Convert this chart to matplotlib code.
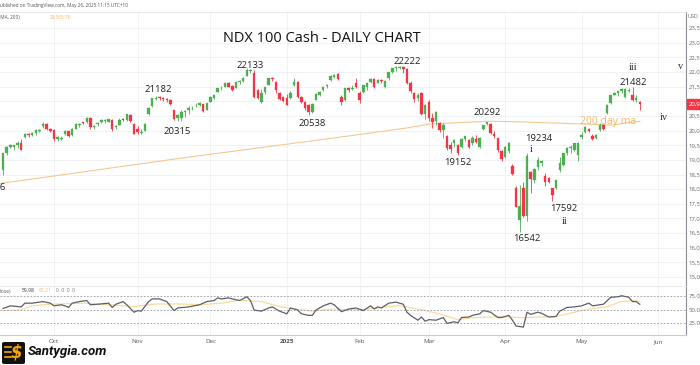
import matplotlib
matplotlib.use("Agg")
import matplotlib.pyplot as plt
import matplotlib.transforms as mtransforms
from matplotlib.patches import FancyBboxPatch
from matplotlib.lines import Line2D
import pandas as pd

plt.rcParams["font.family"] = ["Open Sans", "DejaVu Sans"]

# trading calendar (bar index 0 = 2024-09-11)
start_date = "2024-09-11"
end_date = "2025-06-02"
holidays = ["2024-11-28", "2024-12-25", "2025-01-01", "2025-01-09",
            "2025-01-20", "2025-02-17", "2025-04-18", "2025-05-26"]

opens = [
    18650, 19240, 19440, 19450, 19520, 19560, 19780, 19900, 19860, 19930,
    19990, 20150, 20230, 20060, 20020, 19700, 19720, 19880, 19980, 19850,
    20070, 20180, 20280, 20290, 20430, 20110, 20220, 20280, 20330, 20300,
    20370, 20120, 20200, 20400, 20350, 20520, 20240, 20050, 19930, 19990,
    20550, 20840, 21090, 21150, 21100, 21080, 21050, 20700, 20420, 20420,
    20620, 20700, 20760, 20860, 20880, 20900, 20700, 20980, 21100, 21330,
    21450, 21500, 21640, 21510, 21450, 21650, 21700, 21880, 22020, 21980,
    21380, 20990, 21320, 21550, 21780, 21650, 21300, 21150, 21100, 21110,
    21550, 21660, 21150, 20980, 20870, 20650, 21050, 21220, 21390, 21520,
    21720, 21840, 21930, 21160, 21050, 21450, 21420, 21640, 21300, 21320,
    21500, 21660, 21760, 21640, 21720, 21500, 21800, 21990, 22130, 22150,
    22160, 22100, 21640, 21300, 21120, 21280, 20550, 20980, 20440, 20340,
    20250, 20010, 19800, 19500, 19570, 19500, 19440, 19700, 19680, 19560,
    19700, 19450, 20050, 20210, 20220, 19880, 19740, 19320, 19100, 19300,
    18800, 18050, 16950, 18050, 17100, 18580, 18300, 18760, 18880, 18450,
    18380, 18040, 18040, 18650, 18820, 19230, 19400, 19350, 19150, 19780,
    19950, 20050, 19810, 19740, 20020, 20190, 20600, 20940, 21230, 21280,
    21350, 21160, 21360, 21210, 21050, 20990,
]
highs = [
    19250, 19460, 19540, 19520, 19640, 19700, 19930, 19920, 19960, 20050,
    20060, 20280, 20260, 20080, 20040, 19800, 19820, 20020, 20000, 20080,
    20250, 20260, 20300, 20460, 20450, 20180, 20290, 20380, 20380, 20400,
    20380, 20180, 20420, 20430, 20580, 20580, 20260, 20150, 20050, 20250,
    20800, 21120, 21170, 21182, 21150, 21120, 21080, 20720, 20550, 20700,
    20700, 20850, 20830, 20950, 20960, 20920, 20950, 21180, 21230, 21470,
    21520, 21650, 21660, 21560, 21680, 21740, 21820, 22133, 22110, 22070,
    21420, 21420, 21500, 21800, 21830, 21680, 21320, 21180, 21260, 21340,
    21800, 21700, 21190, 21000, 20900, 20950, 21300, 21350, 21520, 21600,
    21900, 21920, 21960, 21200, 21470, 21480, 21560, 21800, 21350, 21570,
    21650, 21780, 21800, 21770, 21760, 21730, 22000, 22140, 22190, 22222,
    22190, 22120, 21700, 21330, 21300, 21330, 20900, 21040, 20600, 20660,
    20300, 20250, 19850, 19620, 19700, 19540, 19750, 19830, 19700, 19800,
    19840, 19780, 20200, 20292, 20250, 19980, 19760, 19350, 19480, 19620,
    18850, 18100, 18150, 18250, 19234, 18620, 18720, 19100, 19000, 18550,
    18400, 18050, 18330, 19100, 19240, 19430, 19500, 19580, 19600, 19950,
    20150, 20080, 19900, 19900, 20250, 20220, 20900, 21230, 21330, 21360,
    21440, 21450, 21440, 21482, 21200, 21000,
]
lows = [
    18500, 19180, 19400, 19350, 19400, 19330, 19740, 19780, 19820, 19850,
    19960, 20080, 20020, 19960, 19650, 19640, 19680, 19840, 19780, 19830,
    20050, 20120, 20220, 20270, 20050, 20060, 20150, 20260, 20250, 20280,
    20000, 20060, 20180, 20340, 20340, 20300, 19880, 19900, 19900, 19980,
    20520, 20820, 21050, 21050, 21020, 20980, 20860, 20350, 20330, 20315,
    20480, 20560, 20720, 20800, 20850, 20650, 20690, 20970, 21070, 21320,
    21400, 21490, 21480, 21350, 21440, 21600, 21650, 21860, 21980, 21100,
    21080, 20950, 21250, 21540, 21700, 21280, 21040, 20980, 20860, 21090,
    21520, 21100, 20950, 20720, 20538, 20600, 21030, 21180, 21340, 21440,
    21700, 21780, 21720, 20880, 21000, 21320, 21380, 21450, 20950, 21290,
    21400, 21620, 21460, 21620, 21620, 21450, 21740, 21960, 22050, 22100,
    21980, 21580, 21300, 20970, 21000, 20520, 20400, 20320, 20100, 20200,
    19950, 19750, 19350, 19250, 19450, 19152, 19400, 19650, 19420, 19500,
    19560, 19400, 20030, 20190, 19880, 19740, 19280, 18950, 19050, 19250,
    18480, 17380, 16542, 17050, 16900, 17870, 18200, 18650, 18800, 18100,
    18200, 17592, 18000, 18600, 18800, 19180, 19250, 19320, 18950, 19700,
    19930, 19940, 19690, 19700, 19980, 20020, 20580, 20920, 21200, 21180,
    21300, 21120, 21310, 21020, 20980, 20690,
]
closes = [
    19230, 19440, 19500, 19500, 19560, 19340, 19900, 19850, 19920, 20010,
    20020, 20230, 20060, 20000, 19700, 19770, 19760, 20000, 19800, 20060,
    20230, 20230, 20260, 20430, 20120, 20150, 20270, 20360, 20360, 20380,
    20050, 20150, 20350, 20360, 20550, 20340, 19890, 19950, 19960, 20240,
    20780, 21100, 21120, 21100, 21070, 21030, 20900, 20390, 20520, 20620,
    20660, 20760, 20780, 20870, 20940, 20680, 20930, 21160, 21210, 21450,
    21460, 21620, 21500, 21390, 21650, 21700, 21780, 22080, 22060, 21150,
    21110, 21300, 21490, 21790, 21760, 21390, 21090, 21010, 20880, 21290,
    21650, 21150, 20990, 20780, 20650, 20920, 21260, 21330, 21490, 21560,
    21860, 21900, 21760, 20990, 21450, 21400, 21470, 21480, 21050, 21560,
    21630, 21760, 21490, 21720, 21680, 21710, 21990, 22120, 22170, 22180,
    22110, 21610, 21350, 21090, 21200, 20550, 20880, 20420, 20310, 20630,
    20020, 20200, 19420, 19360, 19680, 19220, 19720, 19800, 19450, 19740,
    19620, 19740, 20190, 20280, 19920, 19800, 19340, 19020, 19440, 19580,
    18520, 17400, 17430, 17090, 19145, 18340, 18690, 19000, 18950, 18250,
    18250, 17810, 18300, 18890, 19230, 19400, 19430, 19560, 19570, 19850,
    20120, 19980, 19710, 19860, 20180, 20060, 20870, 21200, 21300, 21340,
    21420, 21430, 21400, 21050, 21110, 20905,
]

# 200 day simple moving average, read at a few bars
sma_bars = [-1, 49, 94, 111, 117, 133, 142, 158, 167, 175]
sma_vals = [18190, 19060, 19800, 20090, 20220, 20320, 20300, 20230, 20190, 20320]

# RSI(14) and its moving average
rsi_bars = [0, 2, 5, 6, 8, 11, 13, 14, 16, 17, 18, 19, 21, 23, 24, 26, 29, 30,
            31, 33, 34, 36, 37, 38, 40, 41, 43, 45, 47, 48, 51, 54, 56, 58, 59,
            60, 62, 63, 65, 67, 68, 69, 71, 73, 74, 76, 78, 79, 81, 82, 84, 85,
            86, 88, 90, 91, 93, 95, 97, 99, 101, 102, 103, 104, 106, 108, 110,
            111, 112, 114, 115, 116, 117, 119, 121, 122, 124, 125, 126, 128,
            129, 131, 132, 134, 136, 137, 139, 140, 141, 143, 144, 145, 147,
            148, 150, 152, 153, 155, 157, 159, 161, 162, 164, 165, 167, 169,
            170, 172, 173, 174, 175]
rsi_vals = [52, 57, 55, 62, 62, 65, 62, 57, 59, 57, 54, 62, 65, 67, 59, 60, 62,
            54, 60, 65, 59, 45, 48, 47, 65, 70, 70, 65, 48, 53, 55, 59, 65, 67,
            72, 70, 72, 70, 67, 74, 67, 49, 47, 53, 55, 47, 42, 53, 49, 42, 39,
            39, 49, 57, 62, 59, 46, 51, 53, 48, 57, 51, 55, 53, 62, 64, 60, 45,
            39, 30, 36, 28, 31, 30, 35, 24, 27, 25, 35, 36, 39, 42, 48, 45, 35,
            35, 39, 30, 19, 17, 45, 41, 45, 43, 36, 37, 47, 54, 55, 57, 62, 57,
            59, 60, 73, 74, 76, 73, 65, 65, 59.98]
rsi_ma_bars = [0, 5, 8, 13, 22, 29, 36, 42, 48, 54, 60, 65, 71, 75, 80, 85, 91,
               95, 98, 104, 109, 115, 120, 125, 129, 137, 143, 148, 152, 157,
               161, 166, 170, 173, 175]
rsi_ma_vals = [48, 49, 57, 60, 62, 59, 55.5, 60.5, 60.5, 59, 62, 67.6, 65, 57.4,
               51, 47, 51, 50, 49.4, 54, 57.4, 49.4, 42, 31, 34.6, 37, 34.6,
               36, 37, 45, 51, 55.5, 65, 66.7, 65.21]

price_ticks = list(range(15000, 24000, 500))
rsi_levels = [25, 50, 75]

# swing / wave annotations: (text, bar, price)
swing_labels = [("18306", -3.0, 18073), ("21182", 42.6, 21418),
                ("20315", 47.8, 19985), ("22133", 67.9, 22238),
                ("20538", 84.9, 20258), ("22222", 111.0, 22375),
                ("19152", 125.0, 18926), ("20292", 133.0, 20633),
                ("19234", 147.3, 19746), ("17592", 154.2, 17356),
                ("16542", 144.0, 16332), ("21482", 173.1, 21657)]
wave_labels = [("iii", 173.1, 22170), ("ii", 154.4, 16912), ("i", 145.1, 19370),
               ("iv", 181.6, 20463), ("v", 186.3, 22204)]

UP = "#4caf50"
DOWN = "#f23645"
GRID = "#eef0f4"
AXIS = "#8a8d96"
MA_COL = "#f4c88e"

dates = pd.bdate_range(start_date, end_date, freq="C", holidays=holidays)
month_ticks = [i for i in range(1, len(dates)) if dates[i].month != dates[i - 1].month]
month_names = ["2025" if dates[i].month == 1 else dates[i].strftime("%b") for i in month_ticks]

fig = plt.figure(figsize=(7.0, 3.65), dpi=100)
ax = fig.add_axes([0, 0.219, 0.98, 0.748])
rsi_ax = fig.add_axes([0, 0.082, 0.98, 0.134], sharex=ax)

xmin, xmax = -0.84, 187.7

# candles
for i in range(len(closes)):
    o, h, l, c = opens[i], highs[i], lows[i], closes[i]
    col = UP if c >= o else DOWN
    ax.vlines(i, l, h, color=col, lw=0.6, zorder=3)
    ax.bar(i, max(abs(c - o), 12), bottom=min(o, c), width=0.68,
           color=col, edgecolor=col, lw=0.2, zorder=4)

ax.plot(sma_bars, sma_vals, color=MA_COL, lw=0.8, zorder=2)

ax.set_xlim(xmin, xmax)
ax.set_ylim(14727, 24047)
ax.set_yticks(price_ticks)
ax.set_yticklabels([f"{v:,.1f}" for v in price_ticks])
ax.yaxis.tick_right()
ax.tick_params(axis="y", length=0, labelsize=4.3, labelcolor="#666", pad=2)
ax.tick_params(axis="x", length=0, labelbottom=False)
ax.set_xticks(month_ticks)
ax.grid(True, color=GRID, lw=0.6)
for s in ["top", "left", "bottom"]:
    ax.spines[s].set_visible(False)
ax.spines["right"].set_color(AXIS)
ax.spines["right"].set_linewidth(0.8)

for txt, bx, py in swing_labels:
    ax.text(bx, py, txt, ha="center", va="center", fontsize=6.8, color="#222", zorder=6)
for txt, bx, py in wave_labels:
    ax.text(bx, py, txt, ha="center", va="center", fontsize=7.5, color="#333",
            family="Liberation Serif", zorder=6)
ax.text(166.2, 20326, "200 day ma", ha="center", va="center", fontsize=7.5,
        color="#f2b96a", zorder=6)

# last price tag
tag_tr = mtransforms.blended_transform_factory(ax.transAxes, ax.transData)
ax.text(1.004, closes[-1], f"{closes[-1]:,.1f}", transform=tag_tr, ha="left",
        va="center", fontsize=4.3, color="white", clip_on=False,
        bbox=dict(boxstyle="square,pad=0.35", fc=DOWN, ec=DOWN))

# RSI panel
rsi_ax.plot(rsi_ma_bars, rsi_ma_vals, color="#f7dc9c", lw=0.9, zorder=2)
rsi_ax.plot(rsi_bars, rsi_vals, color="#5d5f66", lw=0.9, zorder=3)
for lv in rsi_levels:
    rsi_ax.axhline(lv, color="#9598a1", lw=0.6, ls=(0, (2, 2)))
rsi_ax.set_ylim(2, 94)
rsi_ax.set_yticks(rsi_levels)
rsi_ax.set_yticklabels([f"{v:.2f}" for v in rsi_levels])
rsi_ax.yaxis.tick_right()
rsi_ax.tick_params(axis="y", length=0, labelsize=4.3, labelcolor="#666", pad=2)
rsi_ax.set_xticks(month_ticks)
rsi_ax.set_xticklabels(month_names)
rsi_ax.tick_params(axis="x", length=0, labelsize=4.5, labelcolor="#555", pad=3)
for lab in rsi_ax.get_xticklabels():
    if lab.get_text() == "2025":
        lab.set_fontweight("bold")
rsi_ax.grid(True, axis="x", color=GRID, lw=0.6)
rsi_ax.spines["left"].set_visible(False)
rsi_ax.spines["top"].set_color("#e3e5ea")
rsi_ax.spines["top"].set_linewidth(0.6)
rsi_ax.spines["right"].set_color(AXIS)
rsi_ax.spines["right"].set_linewidth(0.8)
rsi_ax.spines["bottom"].set_color("#c9ccd3")
rsi_ax.spines["bottom"].set_linewidth(0.8)

# header texts
fig.text(-0.004, 1 - 5 / 365, "Published on TradingView.com, May 26, 2025 11:15 UTC+10",
         fontsize=3.4, color="#555", va="center")
fig.text(-0.06, 1 - 17 / 365, "MA (200, close, 0, SMA, 200)", fontsize=3.4,
         color="#555", va="center")
fig.text(50 / 700, 1 - 17 / 365, "20,505.76", fontsize=3.4, color="#f2b96a", va="center")
fig.text(688 / 700, 1 - 17 / 365, "USD", fontsize=4.0, color="#666", va="center")
fig.add_artist(Line2D([0, 686 / 700], [1 - 12 / 365] * 2, color="#e3e5ea", lw=0.6))
fig.text(0.46, 1 - 38 / 365, "NDX 100 Cash - DAILY CHART", ha="center", va="center",
         fontsize=10.5, color="#111")

fig.text(-0.03, 1 - 291 / 365, "RSI (14, close)", fontsize=3.6, color="#555", va="center")
fig.text(22 / 700, 1 - 291 / 365, "59.98", fontsize=3.6, color="#333", va="center")
fig.text(39 / 700, 1 - 291 / 365, "65.21", fontsize=3.6, color="#f2b96a", va="center")
fig.text(56 / 700, 1 - 291 / 365, "0  0  0  0", fontsize=3.6, color="#777", va="center")

# watermark logo
fig.patches.append(FancyBboxPatch((2 / 700, 1 - 364 / 365), 23 / 700, 22 / 365,
                                  boxstyle="round,pad=0,rounding_size=0.004",
                                  fc="#111", ec="none", transform=fig.transFigure,
                                  figure=fig))
for yy in (347, 352, 357):
    fig.add_artist(Line2D([5 / 700, 11 / 700], [1 - yy / 365] * 2, color="#f7a600", lw=1.2))
fig.text(16 / 700, 1 - 352 / 365, "$", ha="center", va="center", fontsize=12,
         fontweight="bold", style="italic", color="#f7a600", family="DejaVu Sans")
fig.text(28 / 700, 1 - 352 / 365, "Santygia.com", ha="left", va="center", fontsize=9.5,
         fontweight="bold", style="italic", color="#111", family="Roboto")

fig.savefig("out.png", dpi=100)
